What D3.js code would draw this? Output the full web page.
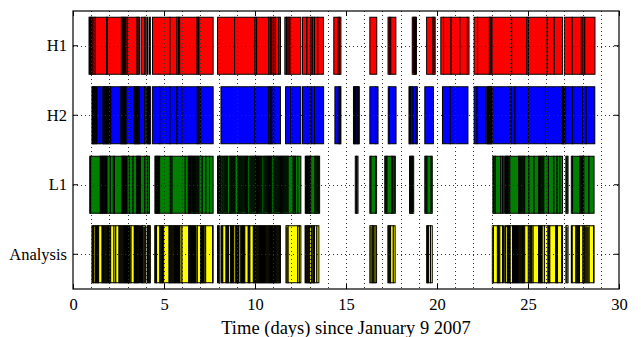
<!DOCTYPE html>
<html>
<head>
<meta charset="utf-8">
<script src="https://cdn.jsdelivr.net/npm/d3@7"></script>
<style>
  body { margin: 0; background: #fff; }
  svg { display: block; }
  text { font-family: "Liberation Serif", "DejaVu Serif", serif; fill: #000; }
</style>
</head>
<body>
<svg id="chart" width="641" height="337"></svg>
<script>
// detector rows, top to bottom
const detectors = ["H1", "H2", "L1", "Analysis"];
const colors = ["#ff0000", "#0000ff", "#008000", "#ffff00"];
const xTicks = [0, 5, 10, 15, 20, 25, 30];
const xLabel = "Time (days) since January 9 2007";

// each block is a run of contiguous segments, given by their boundary times (days)
const h1Blocks = [
  [0.88, 0.93, 0.98, 1.03, 1.1, 1.22, 1.84, 1.88, 2.66, 2.72, 2.78, 2.84, 2.9, 2.98, 3.52, 3.58, 3.66],
  [3.74, 3.95, 4.02],
  [4.08, 4.12],
  [4.2, 4.25],
  [4.37, 5.33, 5.71, 5.8, 5.86, 6.82, 6.88, 6.92, 7.7],
  [7.94, 8.88, 10.0, 10.09, 10.75, 10.84, 10.93, 11.03, 11.12, 11.31, 11.4],
  [11.64, 11.73, 11.82, 11.92, 12.52],
  [12.61, 12.85, 13.08, 13.17, 13.27, 13.45, 13.76],
  [14.33, 14.57, 14.64, 14.72],
  [16.31, 16.69],
  [17.31, 17.38, 17.46, 17.74],
  [18.64, 18.7, 18.76, 18.82, 18.87],
  [19.43, 19.78, 19.84, 19.9],
  [20.21, 20.36, 20.77, 21.26, 21.67, 21.76],
  [22.04, 22.23, 22.88, 22.95, 23.02, 24.1, 24.94, 25.03, 26.06, 26.44, 26.9],
  [27.0, 27.43, 27.93, 28.02, 28.12, 28.68]
];

const h2Blocks = [
  [1.04, 1.08, 1.12, 1.17, 1.22, 1.27, 1.32, 1.47, 1.65, 1.69, 1.74, 1.79, 1.84, 1.89, 1.94, 1.99, 2.04, 2.07,
   2.63, 2.68, 2.73, 2.78, 2.83, 2.88, 2.92, 3.37, 3.42, 3.47, 3.52, 3.57, 3.62, 3.66, 3.93, 4.03],
  [4.07, 4.12, 4.17, 4.22, 4.25],
  [4.36, 4.77, 5.33, 5.71, 5.99, 6.83, 6.92, 7.01, 7.7],
  [8.13, 10.0, 10.75, 10.84, 10.93, 11.03, 11.4],
  [11.68, 11.96, 12.52],
  [12.61, 12.89, 13.08, 13.27, 13.77],
  [14.39, 14.62, 14.67, 14.72],
  [15.41, 15.46, 15.51, 15.56, 15.64, 15.69, 15.73],
  [16.31, 16.63, 16.76],
  [17.32, 17.38, 17.75],
  [18.46, 18.51, 18.56, 18.68, 18.86, 18.92],
  [19.33, 19.8],
  [20.3, 20.73, 21.7],
  [22.04, 22.2, 22.69],
  [22.73, 22.78, 22.83, 22.88, 22.93, 22.98, 23.01],
  [23.04, 24.06, 24.28, 25.03, 25.96, 26.89, 26.94, 26.99, 27.04, 27.45, 28.01, 28.2, 28.67]
];

const l1Blocks = [
  [0.92, 0.97, 1.5, 1.54, 1.58, 1.62, 1.66, 1.7, 1.74, 1.78, 1.82, 1.87, 2.05, 2.22, 2.28, 2.68, 2.72, 2.76,
   2.8, 2.84, 2.88, 2.92, 2.97, 3.1, 3.3, 3.5, 3.54, 3.58, 3.62, 3.66, 3.7, 3.95, 4.1, 4.2],
  [4.5, 4.55, 4.6, 4.65, 4.7, 4.76, 5.35, 5.44, 6.17, 6.34, 6.38, 6.42, 6.46, 6.5, 6.56, 6.62, 6.68, 6.74,
   6.8, 6.86, 6.92, 7.1, 7.3, 7.5, 7.7],
  [7.94, 8.0, 8.06, 8.12, 8.2, 8.3, 8.36, 8.42, 8.48, 8.6, 8.66, 8.72, 8.78, 8.84, 8.9, 9.05, 9.11, 9.17,
   9.23, 9.29, 9.35, 9.41, 9.47, 9.53, 9.6, 9.72, 9.78, 9.84, 9.9, 9.96, 10.02, 10.08, 10.14, 10.2, 10.26,
   10.32, 10.38, 10.5, 10.56, 10.62, 10.68, 10.74, 10.8, 10.86, 10.92, 11.04, 11.1, 11.16, 11.22, 11.28,
   11.34, 11.4, 11.46, 11.52, 11.58, 11.64, 11.7, 11.76, 11.82, 12.1, 12.16, 12.22, 12.35, 12.52],
  [12.76, 12.81, 12.86, 12.91, 12.96, 13.01, 13.06, 13.3, 13.36, 13.42, 13.48, 13.55],
  [15.51, 15.58, 15.66],
  [16.31, 16.37, 16.62, 16.68],
  [17.13, 17.19, 17.25, 17.5, 17.56, 17.65, 17.71],
  [18.49, 18.55, 18.61, 18.66, 18.72],
  [19.33, 19.39, 19.45, 19.68, 19.74],
  [23.07, 23.13, 23.2, 23.5, 23.6, 23.68],
  [23.72, 23.77, 23.82, 23.87, 23.92, 24.0, 24.49, 24.54, 24.6, 24.66, 24.72, 24.78, 24.82, 25.05, 25.33,
   25.59, 25.64, 25.7, 25.76, 25.82, 25.87, 26.12, 26.42, 26.6, 26.75, 26.9],
  [27.08, 27.14, 27.2],
  [27.38, 27.45, 27.85, 27.9, 27.95, 28.0, 28.07, 28.35, 28.63]
];

const analysisBlocks = [
  [1.04, 1.09, 1.13, 1.22, 1.27, 1.32, 1.37, 1.41, 1.6, 1.65, 1.7, 1.75, 1.8, 1.85, 1.9, 1.95, 2.0, 2.07,
   2.25, 2.35, 2.53, 2.58, 2.63, 2.68, 2.73, 2.78, 2.83, 2.88, 2.93, 2.98, 3.03, 3.08, 3.13, 3.19, 3.37,
   3.42, 3.47, 3.52, 3.57, 3.62, 3.66],
  [3.71, 3.76, 3.81, 3.86, 3.92, 3.98],
  [4.07, 4.12, 4.17, 4.22, 4.25],
  [4.49, 4.54, 4.59, 4.77, 4.82, 4.87, 4.92, 4.98, 5.28, 5.33, 5.38, 5.43, 5.48, 5.53, 5.58, 5.63, 5.68,
   5.73, 5.78, 5.83, 5.88, 5.99, 6.36, 6.41, 6.46, 6.51, 6.56, 6.61, 6.66, 6.71, 6.76, 6.83, 7.01, 7.06,
   7.11, 7.16, 7.21, 7.29, 7.67, 7.7],
  [7.94, 8.0, 8.04],
  [8.13, 8.18, 8.23, 8.41, 8.46, 8.5, 8.55, 8.66, 8.7, 8.75, 8.8, 8.84, 8.94, 8.98, 9.03, 9.08, 9.12, 9.22,
   9.26, 9.31, 9.36, 9.4, 9.44, 9.63, 9.68, 9.72, 9.91, 9.96, 10.0, 10.05, 10.1, 10.15, 10.2, 10.25, 10.3,
   10.35, 10.4, 10.45, 10.5, 10.55, 10.6, 10.65, 10.7, 10.75, 10.8, 10.85, 10.9, 10.95, 11.0, 11.05, 11.1,
   11.15, 11.2, 11.25, 11.3, 11.35, 11.4],
  [11.7, 11.76, 11.82, 12.35, 12.44, 12.52],
  [12.75, 12.8, 12.85, 12.9, 12.95, 13.0, 13.1, 13.18, 13.22, 13.27, 13.4, 13.51],
  [16.31, 16.38, 16.45, 16.52, 16.6, 16.68],
  [17.3, 17.35, 17.4, 17.45, 17.6, 17.7],
  [19.43, 19.48, 19.53, 19.64, 19.74],
  [23.04, 23.1, 23.32, 23.38, 23.45, 23.6, 23.65],
  [23.72, 23.77, 23.87, 23.92, 23.97, 24.02, 24.15, 24.2, 24.25, 24.3, 24.35, 24.4, 24.45, 24.5, 24.55,
   24.6, 24.65, 24.7, 24.75, 24.82, 25.02, 25.1, 25.15, 25.2, 25.28, 25.58, 25.63, 25.68, 25.73, 25.78,
   25.9, 26.1, 26.15, 26.2, 26.52, 26.57, 26.62, 26.85, 26.9],
  [27.08, 27.14, 27.2],
  [27.38, 27.43, 27.63, 27.68, 27.73, 27.78, 27.83, 28.02, 28.07, 28.12, 28.18, 28.24, 28.3, 28.36, 28.6, 28.63]
];

const rowBlocks = [h1Blocks, h2Blocks, l1Blocks, analysisBlocks];

const width = 641,
  height = 337,
  margin = { top: 11, right: 22, bottom: 48, left: 73 };

const svg = d3.select("#chart");

const x = d3.scaleLinear()
  .domain([0, 30])
  .range([margin.left, width - margin.right]);

const y = d3.scaleBand()
  .domain(detectors)
  .range([margin.top, height - margin.bottom])
  .paddingInner(0.18)
  .paddingOuter(0.09);

// segments
const segments = [];
rowBlocks.forEach((blocks, r) => {
  blocks.forEach(b => {
    for (let i = 0; i < b.length - 1; i++) {
      segments.push({ row: detectors[r], color: colors[r], start: b[i], end: b[i + 1] });
    }
  });
});

svg.append("g")
  .selectAll("rect")
  .data(segments)
  .join("rect")
  .attr("x", d => x(d.start))
  .attr("y", d => y(d.row))
  .attr("width", d => x(d.end) - x(d.start))
  .attr("height", y.bandwidth())
  .attr("fill", d => d.color)
  .attr("stroke", "#000")
  .attr("stroke-width", 1);

// dotted grid on top of the bars
const grid = svg.append("g")
  .attr("stroke", "#333")
  .attr("stroke-width", 1)
  .attr("stroke-dasharray", "1,3");

grid.selectAll("line.v")
  .data(x.ticks(30).filter(d => d > 0 && d < 30))
  .join("line")
  .attr("class", "v")
  .attr("x1", d => Math.round(x(d)) + 0.5)
  .attr("x2", d => Math.round(x(d)) + 0.5)
  .attr("y1", margin.top)
  .attr("y2", height - margin.bottom);

grid.selectAll("line.h")
  .data(detectors)
  .join("line")
  .attr("class", "h")
  .attr("x1", margin.left)
  .attr("x2", width - margin.right)
  .attr("y1", d => Math.round(y(d) + y.bandwidth() / 2) + 0.5)
  .attr("y2", d => Math.round(y(d) + y.bandwidth() / 2) + 0.5);

// axes with inward ticks
svg.append("g")
  .attr("transform", `translate(0,${height - margin.bottom})`)
  .call(d3.axisBottom(x).tickValues(xTicks).tickSizeInner(-5).tickSizeOuter(0).tickPadding(9));

svg.append("g")
  .attr("transform", `translate(0,${margin.top})`)
  .call(d3.axisTop(x).tickValues(xTicks).tickSizeInner(-5).tickSizeOuter(0).tickFormat(""));

svg.append("g")
  .attr("transform", `translate(${margin.left},0)`)
  .call(d3.axisLeft(y).tickSizeInner(-5).tickSizeOuter(0).tickPadding(6));

svg.append("g")
  .attr("transform", `translate(${width - margin.right},0)`)
  .call(d3.axisRight(y).tickSizeInner(-5).tickSizeOuter(0).tickFormat(""));

svg.selectAll(".domain").remove();
svg.selectAll(".tick line").attr("stroke", "#000");
svg.selectAll(".tick text")
  .attr("font-family", "Liberation Serif, DejaVu Serif, serif")
  .attr("font-size", 16.5);

// plot frame
svg.append("rect")
  .attr("x", margin.left)
  .attr("y", margin.top)
  .attr("width", width - margin.left - margin.right)
  .attr("height", height - margin.top - margin.bottom)
  .attr("fill", "none")
  .attr("stroke", "#000")
  .attr("stroke-width", 1.2);

svg.append("text")
  .attr("x", (margin.left + width - margin.right) / 2)
  .attr("y", 334)
  .attr("text-anchor", "middle")
  .attr("font-size", 18.5)
  .text(xLabel);
</script>
</body>
</html>
